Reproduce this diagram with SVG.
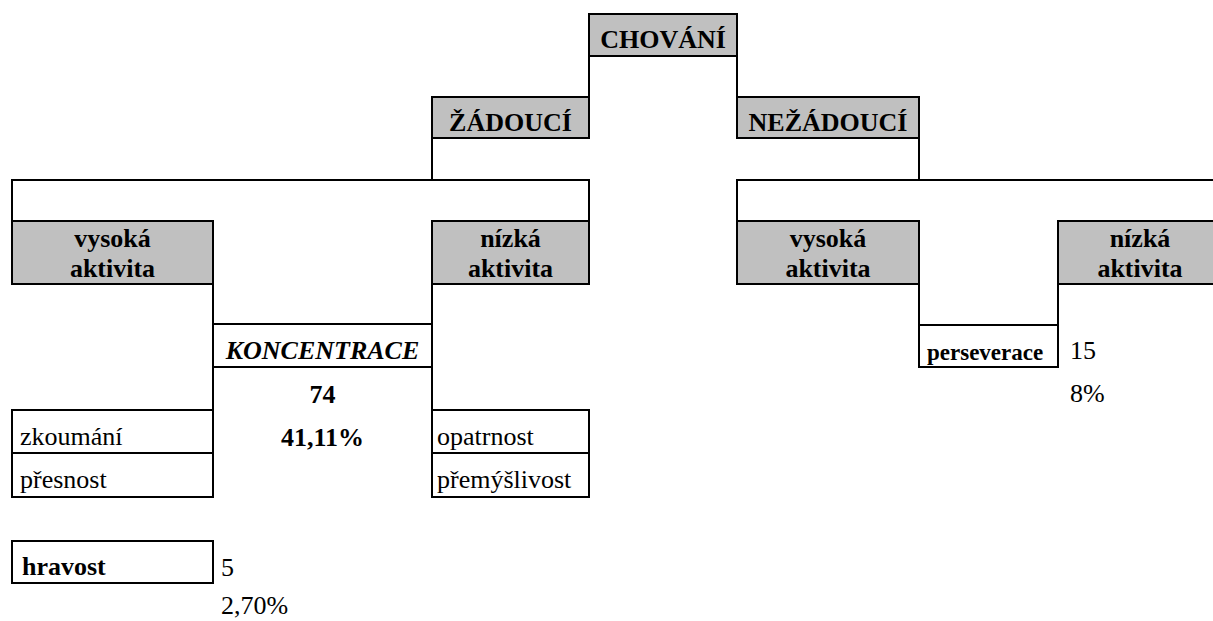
<svg xmlns="http://www.w3.org/2000/svg" width="1213" height="621" viewBox="0 0 1213 621">
  <style>
    text { font-family: "Liberation Serif", "Times New Roman", serif; font-size: 26px; fill: #000; }
    .b { font-weight: bold; }
    .bi { font-weight: bold; font-style: italic; }
    .c { text-anchor: middle; }
    .small { font-size: 23px; }
    .head { fill: #c0c0c0; stroke: #000; stroke-width: 2; }
    .box { fill: none; stroke: #000; stroke-width: 2; }
    .line { fill: none; stroke: #000; stroke-width: 2; }
  </style>
  <rect width="1213" height="621" fill="#fff"/>

  <!-- orthogonal connectors between the category boxes -->
  <g id="connectors">
    <path class="line" d="M589,56 V97"/>
    <path class="line" d="M737,56 V97"/>
    <path class="line" d="M432,138 V180"/>
    <path class="line" d="M12,221 V180 H589 V221"/>
    <path class="line" d="M919,138 V180"/>
    <path class="line" d="M737,221 V180 H1230 V221"/>
    <path class="line" d="M213,284 V410"/>
    <path class="line" d="M432,284 V410"/>
    <path class="line" d="M919,284 V325"/>
    <path class="line" d="M1058,284 V325"/>
  </g>

  <g id="chovani">
    <rect class="head" x="589" y="14" width="148" height="42"/>
    <text class="b c" x="663" y="48">CHOVÁNÍ</text>
  </g>

  <g id="zadouci">
    <rect class="head" x="432" y="97" width="157" height="41"/>
    <text class="b c" x="510.5" y="131">ŽÁDOUCÍ</text>
  </g>

  <g id="nezadouci">
    <rect class="head" x="737" y="97" width="182" height="41"/>
    <text class="b c" x="828" y="131">NEŽÁDOUCÍ</text>
  </g>

  <g id="zadouci-vysoka">
    <rect class="head" x="12" y="221" width="201" height="63"/>
    <text class="b c" x="112.5" y="247">vysoká</text>
    <text class="b c" x="112.5" y="277">aktivita</text>
  </g>

  <g id="zadouci-nizka">
    <rect class="head" x="432" y="221" width="157" height="63"/>
    <text class="b c" x="510.5" y="247">nízká</text>
    <text class="b c" x="510.5" y="277">aktivita</text>
  </g>

  <g id="nezadouci-vysoka">
    <rect class="head" x="737" y="221" width="182" height="63"/>
    <text class="b c" x="828" y="247">vysoká</text>
    <text class="b c" x="828" y="277">aktivita</text>
  </g>

  <g id="nezadouci-nizka">
    <rect class="head" x="1058" y="221" width="172" height="63"/>
    <text class="b c" x="1140" y="247">nízká</text>
    <text class="b c" x="1140" y="277">aktivita</text>
  </g>

  <g id="koncentrace">
    <rect class="box" x="213" y="324" width="219" height="43"/>
    <text class="bi c" x="322.5" y="359">KONCENTRACE</text>
    <text class="b c" x="322.5" y="403">74</text>
    <text class="b c" x="322.5" y="446">41,11%</text>
  </g>

  <g id="vysoka-projevy">
    <rect class="box" x="12" y="410" width="201" height="87"/>
    <path class="line" d="M12,453 H213"/>
    <text x="20" y="445">zkoumání</text>
    <text x="20" y="488">přesnost</text>
  </g>

  <g id="nizka-projevy">
    <rect class="box" x="432" y="410" width="157" height="87"/>
    <path class="line" d="M432,453 H589"/>
    <text x="437" y="445">opatrnost</text>
    <text x="437" y="488">přemýšlivost</text>
  </g>

  <g id="perseverace">
    <rect class="box" x="919" y="325" width="139" height="42"/>
    <text class="b small" x="927" y="360">perseverace</text>
    <text x="1070" y="359">15</text>
    <text x="1070" y="402">8%</text>
  </g>

  <g id="hravost">
    <rect class="box" x="12" y="541" width="201" height="42"/>
    <text class="b" x="22" y="575">hravost</text>
    <text x="221" y="576">5</text>
    <text x="221" y="614">2,70%</text>
  </g>
</svg>
